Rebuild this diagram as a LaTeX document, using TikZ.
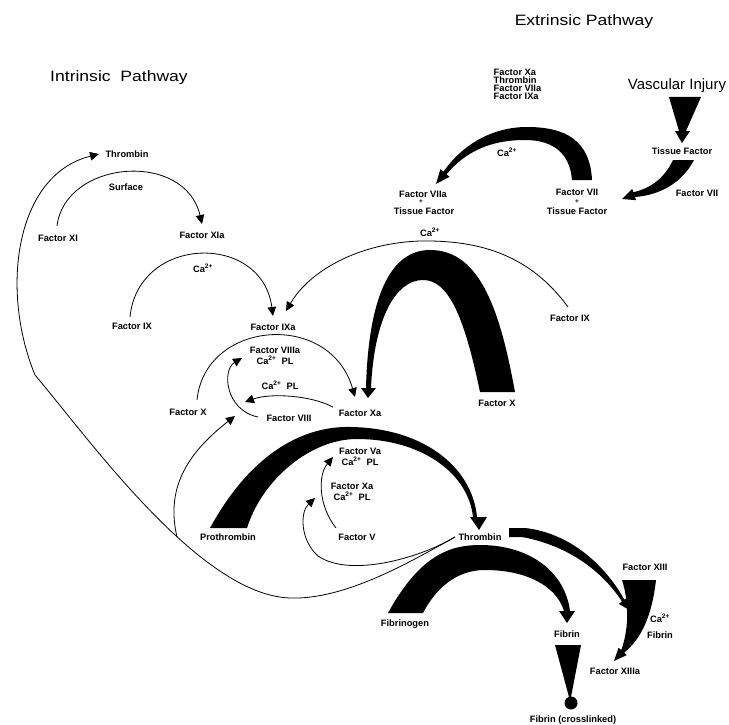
\documentclass[tikz,border=0pt]{standalone}
\usepackage{fontspec}
\usepackage{graphicx}
\setmainfont{Liberation Sans}
\usetikzlibrary{arrows.meta,calc}
\newcommand\caion{Ca\textsuperscript{2+}}
\begin{document}
\begin{tikzpicture}[x=1pt,y=-1pt,
  lab/.style={font=\bfseries\fontsize{9.3}{10.5}\selectfont, inner sep=0.5pt, align=center},
  ttl/.style={font=\fontsize{15}{17}\selectfont, inner sep=0pt},
  mk/.style={font=\bfseries\fontsize{6.5}{6.5}\selectfont, inner sep=0pt},
  thinarr/.style={line width=0.8pt, -{Triangle[length=9pt,width=8.5pt]}},
  thinln/.style={line width=0.8pt},
  blk/.style={fill=black, draw=none}]
\useasboundingbox[fill=white] (0,0) rectangle (729,725);

% ---------------- titles
\node[ttl] (extr) at (584,22) {\scalebox{1.17}[1]{Extrinsic Pathway}};
\node[ttl] (intr) at (119,78) {\scalebox{1.17}[1]{Intrinsic\ \ Pathway}};
\node[ttl] (vasc) at (677,86) {Vascular Injury};

% ---------------- labels
\node[lab, align=left, anchor=west, font=\bfseries\fontsize{9.3}{8}\selectfont] (stack) at (493,84) {Factor Xa\\Thrombin\\Factor VIIa\\Factor IXa};
\node[lab] (tfR) at (682,151) {Tissue Factor};
\node[lab] (f7R) at (697,193) {Factor VII};
\node[lab] (f7aL) at (423,194) {Factor VIIa};
\node[mk] (mkL) at (421,202) {+};
\node[lab] (tfL) at (424,211) {Tissue Factor};
\node[lab] (f7C) at (577,192) {Factor VII};
\node[mk] (mkC) at (577,202) {+};
\node[lab] (tfC) at (577,211) {Tissue Factor};
\node[lab] (caT) at (507,152) {\caion};

\node[lab] (thrT) at (127,154) {Thrombin};
\node[lab] (surf) at (126,187) {Surface};
\node[lab] (fXI) at (58,238) {Factor XI};
\node[lab] (fXIa) at (202,235) {Factor XIa};
\node[lab] (ca1) at (203,268) {\caion};
\node[lab] (fIX) at (132,326) {Factor IX};
\node[lab] (fIXa) at (273,327) {Factor IXa};
\node[lab] (ca2) at (430,232) {\caion};
\node[lab] (fIXr) at (570,318) {Factor IX};
\node[lab] (f8a) at (275,356) {Factor VIIIa\\\caion\ \ PL};
\node[lab] (capl1) at (280,385) {\caion\ \ PL};
\node[lab] (fX) at (188,412) {Factor X};
\node[lab] (f8) at (289,418) {Factor VIII};
\node[lab] (fXa) at (360,413) {Factor Xa};
\node[lab] (fXr) at (497,403) {Factor X};
\node[lab] (f5a) at (360,457) {Factor Va\\\caion\ \ PL};
\node[lab] (fXa2) at (352,492) {Factor Xa\\\caion\ \ PL};
\node[lab] (proth) at (228,537) {Prothrombin};
\node[lab] (f5) at (357,537) {Factor V};
\node[lab] (thr) at (480,537) {Thrombin};
\node[lab] (f13) at (645,567) {Factor XIII};
\node[lab] (ca3) at (660,618) {\caion};
\node[lab] (fbnR) at (660,635) {Fibrin};
\node[lab] (f13a) at (615,671) {Factor XIIIa};
\node[lab] (fbg) at (405,624) {Fibrinogen};
\node[lab] (fbn) at (567,634) {Fibrin};
\node[lab] (fbx) at (573,720) {Fibrin (crosslinked)};

% ---------------- connector end points
\coordinate (sXI) at (57,226);   \coordinate (eXIa) at (202,224);
\coordinate (sIX) at (130,317);  \coordinate (eIXa) at (273,316);
\coordinate (sIXr) at (568,307); \coordinate (eIXa2) at (286,311);
\coordinate (sX) at (197,400);   \coordinate (eXa) at (355,397);
\coordinate (sXa) at (333,407);  \coordinate (e8) at (245,402);
\coordinate (s8) at (258,417);   \coordinate (e8a) at (242,358);
\coordinate (sThr) at (455,537); \coordinate (eThrT) at (99,154);
\coordinate (brn) at (177,537);  \coordinate (eAct8) at (235,416);
\coordinate (s5) at (336,528);   \coordinate (e5a) at (333,457);
\coordinate (eAct5) at (315,498);

% ---------------- thin connectors
\draw[thinarr] (sXI) .. controls (65,160) and (185,150) .. (eXIa);
\draw[thinarr] (sIX) .. controls (138,235) and (262,232) .. (eIXa);
\draw[thinarr] (sIXr) .. controls (530,255) and (480,240) .. (420,241)
                     .. controls (360,243) and (310,270) .. (eIXa2);
\draw[thinarr] (sX) .. controls (205,320) and (330,310) .. (eXa);
\draw[thinarr] (sXa) .. controls (310,395) and (270,393) .. (e8);
\draw[thinarr] (s8) .. controls (225,410) and (222,370) .. (e8a);
\draw[thinarr] (sThr) .. controls (410,562) and (345,600) .. (290,598)
                      .. controls (200,595) and (90,440) .. (35,375)
                      .. controls (0,290) and (15,175) .. (eThrT);
\draw[thinarr] (brn) .. controls (166,490) and (185,455) .. (eAct8);
\draw[thinarr] (s5) .. controls (318,505) and (318,475) .. (e5a);
\draw[thinarr] (sThr) .. controls (420,558) and (350,578) .. (318,556)
                      .. controls (300,540) and (300,512) .. (eAct5);

% ---------------- thick black arrows
% Factor VII -> VIIa (extrinsic)
\fill[blk] (592,180) .. controls (590,140) and (565,127) .. (527,127)
  .. controls (492,127) and (462,145) .. (443.5,171.7)
  -- (440.4,169.2) -- (436,184) -- (449.6,176.8) -- (446.5,174.3)
  .. controls (465,152) and (490,140) .. (525,140)
  .. controls (555,140) and (570,155) .. (572,180) -- cycle;
% Vascular injury -> Tissue factor
\fill[blk] (669,97) -- (701,97) -- (686,131) -- (690,131) -- (682,143)
  -- (675,131) -- (679,131) -- cycle;
% Tissue factor -> Factor VII
\fill[blk] (673,160) -- (694,160) .. controls (682,183) and (660,195) .. (635,197)
  -- (636.2,200.2) -- (622,199) -- (632.2,188.9) -- (633.4,192.2)
  .. controls (652,188) and (665,177) .. (673,160) -- cycle;
% Factor X -> Factor Xa
\fill[blk] (515,392) .. controls (500,310) and (480,250) .. (430,250)
  .. controls (385,250) and (368,310) .. (366,388)
  -- (361,388) -- (368,398) -- (376,388) -- (371,388)
  .. controls (374,320) and (395,280) .. (423,280)
  .. controls (448,280) and (464,315) .. (480,392) -- cycle;
% Prothrombin -> Thrombin
\fill[blk] (210,528) .. controls (250,455) and (300,428) .. (345,427)
  .. controls (420,426) and (472,465) .. (477,517)
  -- (487,517) -- (479,530) -- (470,517) -- (473,517)
  .. controls (468,472) and (420,439) .. (357,439)
  .. controls (310,439) and (262,480) .. (247,528) -- cycle;
% Fibrinogen -> Fibrin
\fill[blk] (388,613) .. controls (420,555) and (450,545) .. (480,545)
  .. controls (530,545) and (565,572) .. (570,611)
  -- (575,611) -- (567,623) -- (559,611) -- (564,611)
  .. controls (556,585) and (525,570) .. (485,570)
  .. controls (455,570) and (435,590) .. (423,613) -- cycle;
% Thrombin -> Factor XIII activation
\fill[blk] (509,528) -- (525,528) .. controls (570,533) and (605,565) .. (624.4,599.7)
  -- (627.6,597.3) -- (631,611) -- (618.8,603.9) -- (622,601.5)
  .. controls (600,568) and (565,545) .. (522,537) -- (509,537) -- cycle;
% Factor XIII -> XIIIa
\fill[blk] (622,580) -- (656,580) .. controls (652,615) and (642,638) .. (624.2,652.7)
  -- (626.8,655.1) -- (614,661) -- (618.6,647.7) -- (621.2,650.1)
  .. controls (628,632) and (630,605) .. (622,580) -- cycle;
% Fibrin -> crosslinked
\fill[blk] (555,645) -- (581,645) -- (571,697) -- (569,697) -- cycle;
\fill[blk] (571,703) circle[radius=6.5pt];
\end{tikzpicture}
\end{document}
